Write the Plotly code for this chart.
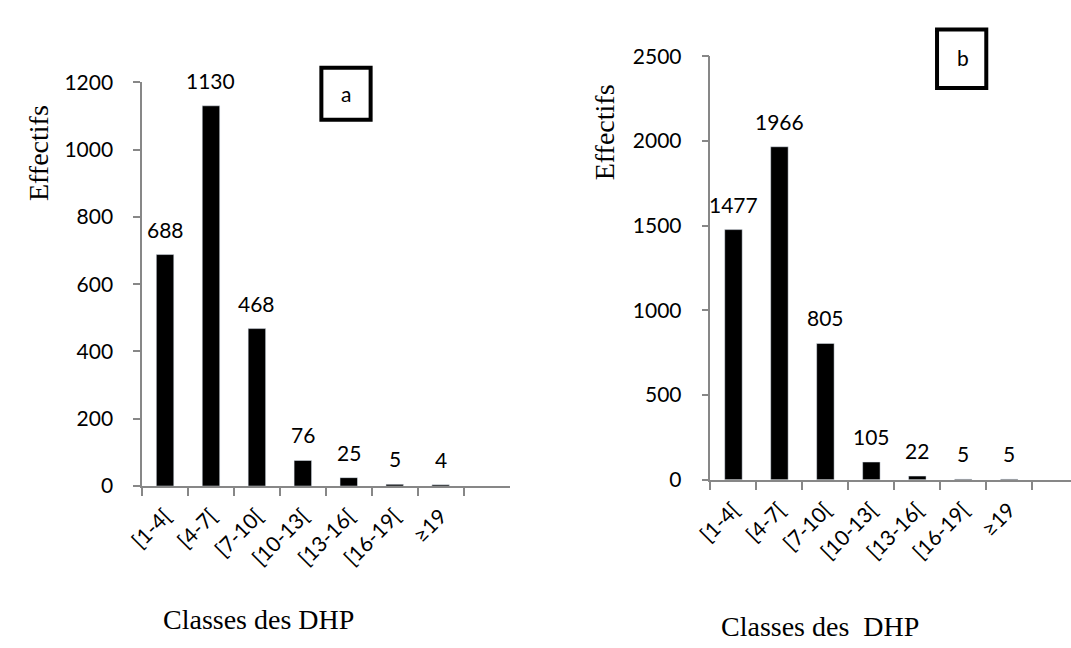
import plotly.graph_objects as go

categories = ["[1-4[", "[4-7[", "[7-10[", "[10-13[", "[13-16[", "[16-19[", "≥19"]
values_a = [688, 1130, 468, 76, 25, 5, 4]
values_b = [1477, 1966, 805, 105, 22, 5, 5]
y_ticks_a = [0, 200, 400, 600, 800, 1000, 1200]
y_ticks_b = [0, 500, 1000, 1500, 2000, 2500]
cat_order = categories + [" "]

W, H = 1071, 648
def px_x(p): return p / W
def px_y(p): return 1 - p / H

AX = "#878787"
TICKFONT = dict(family="Lato, Open Sans, sans-serif", size=21, color="black")
SERIF = dict(family="Liberation Serif, Times New Roman, serif", size=28, color="black")

fig = go.Figure()
fig.add_trace(go.Bar(x=categories, y=values_a, marker_color="black", width=0.38,
                     xaxis="x", yaxis="y", showlegend=False))
fig.add_trace(go.Bar(x=categories, y=values_b, marker_color="black", width=0.38,
                     xaxis="x2", yaxis="y2", showlegend=False))

def xax(domain, rng, anchor):
    return dict(domain=domain, anchor=anchor, type="category", categoryorder="array",
                categoryarray=cat_order, range=rng, tickson="boundaries", ticks="outside",
                ticklen=8, tickcolor=AX, tickwidth=1.5, showline=True, linecolor=AX,
                linewidth=1.5, showgrid=False, zeroline=False, tickangle=-45,
                tickfont=TICKFONT, ticklabelstandoff=8, fixedrange=True)

def yax(domain, rng, vals, anchor):
    return dict(domain=domain, anchor=anchor, range=rng, tickmode="array", tickvals=vals,
                ticks="outside", ticklen=7, tickcolor=AX, tickwidth=1.5, showline=True,
                linecolor=AX, linewidth=1.5, showgrid=False, zeroline=False,
                tickfont=TICKFONT, ticklabelstandoff=16, fixedrange=True)

fig.update_layout(
    width=W, height=H, margin=dict(l=0, r=0, t=0, b=0),
    paper_bgcolor="white", plot_bgcolor="white",
    xaxis=xax([px_x(128), px_x(501)], [-0.5, 7.5], "y"),
    yaxis=yax([px_y(491), px_y(71)], [0, 1200], y_ticks_a, "x"),
    xaxis2=xax([px_x(705), 1.0], [-0.5, 7.343], "y2"),
    yaxis2=yax([px_y(484.5), px_y(44)], [0, 2500], y_ticks_b, "x2"),
)

annotations = []
for c, v in zip(categories, values_a):
    annotations.append(dict(x=c, y=v, xref="x", yref="y", text=str(v), showarrow=False,
                            xanchor="center", yanchor="bottom", yshift=11, font=TICKFONT))
for c, v in zip(categories, values_b):
    annotations.append(dict(x=c, y=v, xref="x2", yref="y2", text=str(v), showarrow=False,
                            xanchor="center", yanchor="bottom", yshift=11, font=TICKFONT))

def paper_text(x, y, text, font, angle=0):
    return dict(x=px_x(x), y=px_y(y), xref="paper", yref="paper", text=text,
                textangle=angle, showarrow=False, xanchor="center", yanchor="middle",
                font=font)

# axis titles
annotations.append(paper_text(23, 145, "Effectifs", SERIF, -90))
annotations.append(paper_text(597, 123, "Effectifs", SERIF, -90))
annotations.append(paper_text(246, 630, "Classes des DHP", SERIF))
annotations.append(paper_text(816, 637, "Classes des\u00a0 DHP", SERIF))
# panel letters
annotations.append(paper_text(335, 83, "a", TICKFONT))
annotations.append(paper_text(961, 45, "b", TICKFONT))
fig.update_layout(annotations=annotations)

fig.update_layout(shapes=[
    dict(type="rect", xref="paper", yref="paper", x0=px_x(310), x1=px_x(360),
         y0=px_y(110), y1=px_y(56), line=dict(color="black", width=4)),
    dict(type="rect", xref="paper", yref="paper", x0=px_x(935), x1=px_x(985),
         y0=px_y(77), y1=px_y(16), line=dict(color="black", width=4)),
])

fig.write_html("out.html")
